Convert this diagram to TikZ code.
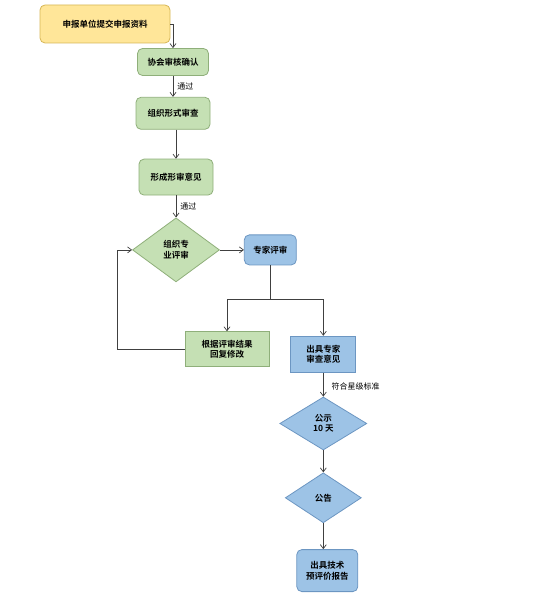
\documentclass[tikz,border=0pt]{standalone}
\usepackage{fontspec}
\newfontfamily\cjk{Noto Sans CJK SC}[BoldFont={Noto Sans CJK SC Bold}]
\usetikzlibrary{
  shapes.geometric,
  arrows.meta,
  positioning,
  calc
}
\definecolor{applyfill}{HTML}{FFE699}
\definecolor{applyline}{HTML}{D6B656}
\definecolor{greenfill}{HTML}{C5E0B4}
\definecolor{greenline}{HTML}{8FAF7A}
\definecolor{bluefill}{HTML}{9DC3E6}
\definecolor{blueline}{HTML}{6C96C2}
\definecolor{arrowcolor}{HTML}{404040}
\tikzset{
  base/.style={
    font=\cjk\bfseries\fontsize{8.5}{10.5}\selectfont,
    text=black,
    align=center,
    inner sep=2pt,
    line width=0.8pt,
  },
  roundbox/.style={
    base,
    draw=#1line,
    fill=#1fill,
    rounded corners=5pt,
  },
  roundbox/.default=green,
  plainbox/.style={
    base,
    draw=#1line,
    fill=#1fill,
  },
  plainbox/.default=green,
  decide/.style={
    base,
    diamond,
    draw=#1line,
    fill=#1fill,
    inner sep=0pt,
  },
  decide/.default=green,
  flow/.style={
    -{Straight Barb[length=4pt, width=6pt]},
    line width=0.7pt,
    draw=arrowcolor,
  },
  elabel/.style={
    font=\cjk\fontsize{8}{10}\selectfont,
    text=black,
    inner sep=2pt,
  },
}

\begin{document}
\begin{tikzpicture}[x=1pt, y=1pt]

\useasboundingbox (0,0) rectangle (554,-593);

% === Submission and formal check ===

\node[roundbox=apply, minimum width=130pt, minimum height=38pt]
  (apply) at (105,-24) {申报单位提交申报资料};

\node[roundbox, minimum width=71pt, minimum height=27pt]
  (confirm) at (173,-62) {协会审核确认};

\node[roundbox, minimum width=74pt, minimum height=32pt, below=21pt of confirm]
  (formal) {组织形式审查};

\node[roundbox, minimum width=74pt, minimum height=36pt, below=29pt of formal, xshift=3pt]
  (opinion) {形成形审意见};

\draw[flow] (apply.east) -| (confirm.north);
\draw[flow] (confirm) -- node[elabel, right, xshift=2pt] {通过} (formal);
\draw[flow] (formal.south -| opinion.north) -- (opinion.north);

% === Expert review ===

\node[decide, minimum width=87pt, minimum height=64pt, below=22pt of opinion]
  (review) {组织专\\业评审};

\node[roundbox=blue, minimum width=52pt, minimum height=30pt, right=24pt of review]
  (expert) {专家评审};

\draw[flow] (opinion) -- node[elabel, right, xshift=2pt] {通过} (review);
\draw[flow] (review) -- (expert);

\node[plainbox, minimum width=84pt, minimum height=35pt, below=49pt of review, xshift=51pt]
  (revise) {根据评审结果\\回复修改};

\node[plainbox=blue, minimum width=65pt, minimum height=36pt, right=21pt of revise, yshift=-5pt]
  (issue) {出具专家\\审查意见};

% split below expert review
\coordinate (split) at ($(expert.south) + (0,-34)$);
\draw[line width=0.7pt, draw=arrowcolor] (expert.south) -- (split);
\draw[flow] (split) -| (revise.north);
\draw[flow] (split) -| (issue.north);

% revision goes back to review
\draw[flow] (revise.west) -- ++(-67,0) |- (review.west);

% === Publicity and report ===

\node[decide=blue, minimum width=87pt, minimum height=53pt, below=24pt of issue]
  (publicity) {公示\\10 天};

\node[decide=blue, minimum width=76pt, minimum height=50pt, below=22pt of publicity]
  (announce) {公告};

\node[roundbox=blue, minimum width=61pt, minimum height=42pt, below=26pt of announce, xshift=4pt]
  (report) {出具技术\\预评价报告};

\draw[flow] (issue) -- node[elabel, right, xshift=6pt, yshift=-2pt] {符合星级标准} (publicity);
\draw[flow] (publicity) -- (announce);
\draw[flow] (announce.south) -- (announce.south |- report.north);

\end{tikzpicture}
\end{document}
